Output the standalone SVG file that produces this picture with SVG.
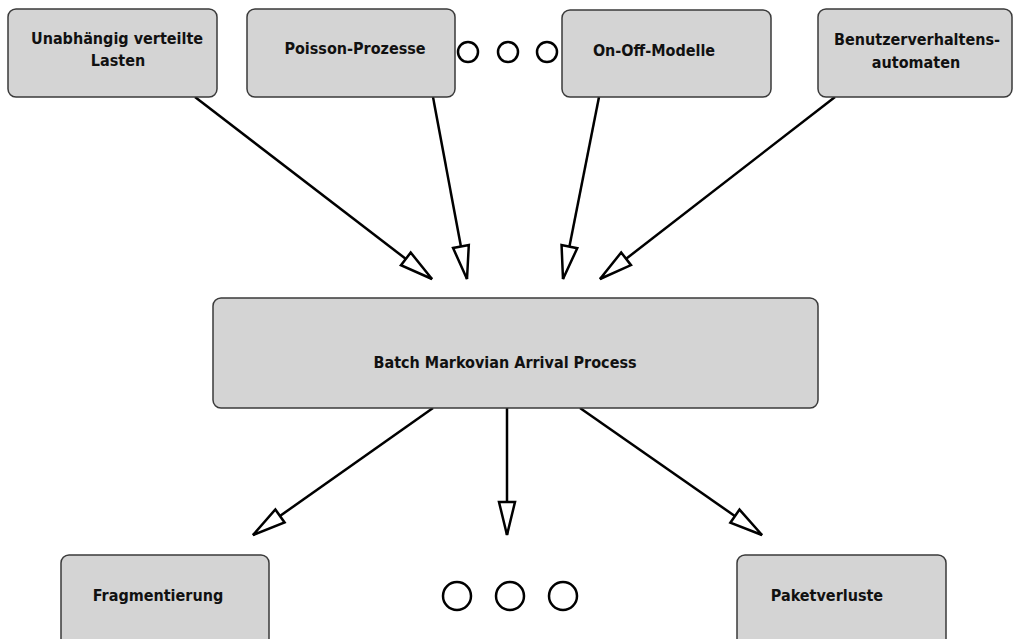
<svg xmlns="http://www.w3.org/2000/svg" width="1013" height="639" viewBox="0 0 1013 639">
<style>
.box{fill:#d4d4d4;stroke:#3a3a3a;stroke-width:1.5}
.lbl{font-family:"DejaVu Sans Condensed","DejaVu Sans",Verdana,sans-serif;font-stretch:condensed;font-weight:bold;font-size:16px;fill:#111;text-anchor:middle}
.edge{stroke:#000;stroke-width:2.5;fill:none;marker-end:url(#tri)}
.dot{fill:none;stroke:#000;stroke-width:2.5}
</style>
<defs>
<marker id="tri" markerUnits="userSpaceOnUse" markerWidth="40" markerHeight="24" viewBox="-36 -12 40 24" refX="0" refY="0" orient="auto">
<path d="M0,0 L-33,-8 L-33,8 Z" fill="#fff" stroke="#000" stroke-width="2.5" stroke-linejoin="miter"/>
</marker>
</defs>
<rect width="1013" height="639" fill="#fff"/>
<g id="connectors">
<line class="edge" x1="195" y1="97" x2="432" y2="279"/>
<line class="edge" x1="433" y1="97" x2="467" y2="279"/>
<line class="edge" x1="599" y1="97" x2="563" y2="279"/>
<line class="edge" x1="835" y1="97" x2="600" y2="279"/>
<line class="edge" x1="433" y1="408" x2="253" y2="535"/>
<line class="edge" x1="507" y1="408" x2="507" y2="535"/>
<line class="edge" x1="580" y1="408" x2="762" y2="535"/>
</g>
<g id="n1"><rect class="box" x="8" y="9" width="209" height="88" rx="8"/>
<text class="lbl" x="117" y="44">Unabhängig verteilte</text><text class="lbl" x="118" y="66">Lasten</text></g>
<g id="n2"><rect class="box" x="247" y="9" width="208" height="88" rx="8"/>
<text class="lbl" x="355" y="54">Poisson-Prozesse</text></g>
<g id="dots-top"><circle class="dot" cx="468" cy="52" r="10"/><circle class="dot" cx="508" cy="52" r="10"/><circle class="dot" cx="547" cy="52" r="10"/></g>
<g id="n3"><rect class="box" x="562" y="10" width="209" height="87" rx="8"/>
<text class="lbl" x="654" y="56">On-Off-Modelle</text></g>
<g id="n4"><rect class="box" x="818" y="9" width="194" height="88" rx="8"/>
<text class="lbl" x="917" y="45">Benutzerverhaltens-</text><text class="lbl" x="916" y="68">automaten</text></g>
<g id="bmap"><rect class="box" x="213" y="298" width="605" height="110" rx="8"/>
<text class="lbl" x="505" y="368">Batch Markovian Arrival Process</text></g>
<g id="frag"><rect class="box" x="61" y="555" width="208" height="100" rx="8"/>
<text class="lbl" x="158" y="601">Fragmentierung</text></g>
<g id="dots-bottom"><circle class="dot" cx="457" cy="596" r="14"/><circle class="dot" cx="510" cy="596" r="14"/><circle class="dot" cx="563" cy="596" r="14"/></g>
<g id="pak"><rect class="box" x="737" y="555" width="209" height="100" rx="8"/>
<text class="lbl" x="827" y="601">Paketverluste</text></g>
</svg>
